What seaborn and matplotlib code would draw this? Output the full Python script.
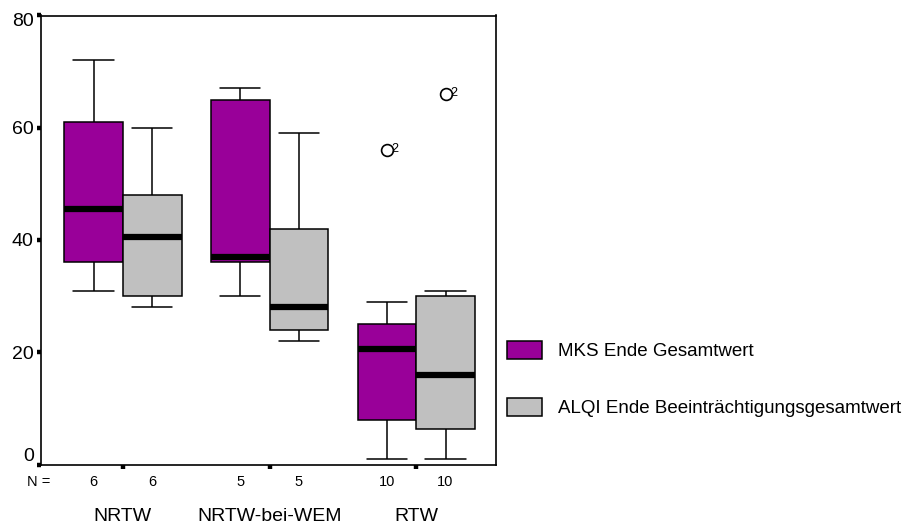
import numpy as np
import pandas as pd
import matplotlib
matplotlib.use("Agg")
import matplotlib.pyplot as plt
import matplotlib.transforms as mtransforms
from matplotlib.patches import Patch
import seaborn as sns

# Groups and measures
groups = ["NRTW", "NRTW-bei-WEM", "RTW"]
measures = ["MKS Ende Gesamtwert", "ALQI Ende Beeinträchtigungsgesamtwert"]

# Scores per group (MKS)
mks_nrtw = [31, 36, 36, 55, 63, 72]
mks_bei_wem = [30, 36, 37, 65, 67]
mks_rtw = [1, 5, 8, 8, 20, 21, 25, 25, 29, 56]

# Scores per group (ALQI)
alqi_nrtw = [28, 29, 33, 48, 48, 60]
alqi_bei_wem = [22, 24, 28, 42, 59]
alqi_rtw = [1, 3, 6, 7, 15, 17, 30, 30, 31, 66]

# Case number shown next to outliers
outlier_case = "2"

y_ticks = [0, 20, 40, 60, 80]
colors = ["#990099", "#c0c0c0"]

series = {
    measures[0]: [mks_nrtw, mks_bei_wem, mks_rtw],
    measures[1]: [alqi_nrtw, alqi_bei_wem, alqi_rtw],
}
rows = []
for m, lists in series.items():
    for g, vals in zip(groups, lists):
        for v in vals:
            rows.append({"Gruppe": g, "Messung": m, "Wert": v})
df = pd.DataFrame(rows)

sns.set_style("white")
plt.rcParams["font.family"] = ["Liberation Sans Narrow", "Liberation Sans", "DejaVu Sans"]
plt.rcParams["text.color"] = "black"
plt.rcParams["xtick.color"] = "black"
plt.rcParams["ytick.color"] = "black"
plt.rcParams["xtick.labelcolor"] = "black"
plt.rcParams["ytick.labelcolor"] = "black"

W, H = 914, 529
fig = plt.figure(figsize=(W / 100, H / 100), dpi=100)
ax = fig.add_axes([41 / W, 1 - 464.5 / H, 455 / W, 449 / H])

sns.boxplot(
    data=df, x="Gruppe", y="Wert", hue="Messung",
    order=groups, hue_order=measures, palette=colors, saturation=1,
    width=0.8, gap=0, linecolor="black", linewidth=1.1, whis=1.5,
    fliersize=8,
    medianprops=dict(color="black", linewidth=4.5),
    ax=ax, legend=False,
)

# Caps wider than default, hollow outlier circles with case labels
for cont in ax.containers:
    for cap in cont.caps:
        xd = np.asarray(cap.get_xdata(), dtype=float)
        c = xd.mean()
        cap.set_xdata([c - 0.137, c + 0.137])
    for fl in cont.fliers:
        fl.set(marker="o", markerfacecolor="none", markeredgecolor="black",
               markeredgewidth=1.2, markersize=8.5)
        for x, y in zip(fl.get_xdata(), fl.get_ydata()):
            ax.annotate(outlier_case, (x, y), xytext=(3.2, 0.8),
                        textcoords="offset points", fontsize=9,
                        va="center", ha="left", color="black")

ax.set_xlim(-0.558, 2.544)
ax.set_ylim(0, 80)
ax.set_yticks(y_ticks)
ax.set_yticklabels([str(t) for t in y_ticks], fontsize=14)
ax.set_xticks(range(len(groups)))
ax.set_xticklabels(groups, fontsize=14)
ax.set_xlabel("")
ax.set_ylabel("")

for s in ax.spines.values():
    s.set_visible(True)
    s.set_color("black")
    s.set_linewidth(1.2)

ax.tick_params(axis="y", direction="out", length=3.2, width=3.2, pad=2.0,
               left=True, color="black", labelcolor="black")
ax.tick_params(axis="x", direction="out", length=3.2, width=3.2, pad=28,
               bottom=True, color="black", labelcolor="black")

# Nudge the outermost y labels inward
for lab in ax.get_yticklabels():
    if lab.get_text() == "0":
        lab.set_transform(lab.get_transform() + mtransforms.ScaledTranslation(0, 0.1, fig.dpi_scale_trans))
    elif lab.get_text() == "80":
        lab.set_transform(lab.get_transform() + mtransforms.ScaledTranslation(0, -0.04, fig.dpi_scale_trans))

# Case counts under each box
tr = mtransforms.blended_transform_factory(ax.transData, ax.transAxes)
ny = -(482 - 464.5) / 449
ax.text(-0.005, ny, "N =", transform=ax.transAxes, ha="center", va="center",
        fontsize=10.5, color="black")
for m, off in zip(measures, [-0.2, 0.2]):
    for i, g in enumerate(groups):
        n = len(df[(df["Gruppe"] == g) & (df["Messung"] == m)])
        ax.text(i + off, ny, str(n), transform=tr, ha="center", va="center",
                fontsize=10.5, color="black")

handles = [Patch(facecolor=c, edgecolor="black", linewidth=1.1) for c in colors]
fig.legend(handles, measures, loc="upper left", bbox_to_anchor=(507 / W, 1 - 341 / H),
           frameon=False, fontsize=13.5, handlelength=1.87, handleheight=1.12,
           handletextpad=0.85, labelspacing=2.0, borderpad=0, borderaxespad=0,
           labelcolor="black")

fig.savefig("out.png", dpi=100)
